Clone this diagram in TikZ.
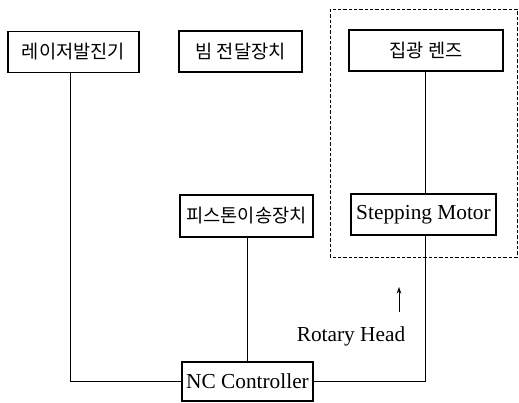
\documentclass[tikz,border=0pt]{standalone}
\usepackage{fontspec}
\setmainfont{Liberation Serif}
\newfontfamily\kr{Noto Sans CJK KR}
\usetikzlibrary{arrows.meta}
\begin{document}
\begin{tikzpicture}[x=0.75pt,y=-0.75pt,
  box/.style={draw,line width=0.8pt,inner sep=0pt,anchor=center},
  krtext/.style={font=\kr\fontsize{14}{16}\selectfont},
  entext/.style={font=\fontsize{16}{18}\selectfont},
  wire/.style={line width=0.75pt}]
\useasboundingbox (0,0) rectangle (519,403);
\draw[dashed,dash pattern=on 2.5pt off 1.5pt,line width=0.6pt] (330,9) rectangle (517,257);
\node[box,krtext,minimum width=131*0.75pt,minimum height=41*0.75pt] (laser) at (73.5,52) {레이저발진기};
\node[box,krtext,minimum width=123*0.75pt,minimum height=41*0.75pt] (beam) at (240.5,51.5) {빔 전달장치};
\node[box,krtext,minimum width=154*0.75pt,minimum height=41*0.75pt] (lens) at (426,50.5) {집광 렌즈};
\node[box,entext,minimum width=145*0.75pt,minimum height=41*0.75pt] (motor) at (423.5,214.5) {Stepping Motor};
\node[box,krtext,minimum width=133*0.75pt,minimum height=42*0.75pt] (piston) at (246.5,216) {피스톤이송장치};
\node[box,entext,minimum width=131*0.75pt,minimum height=39*0.75pt] (nc) at (247.5,381.5) {NC Controller};
\node[entext,inner sep=0pt] (rh) at (351,336) {Rotary Head};
\coordinate (arrowbase) at (399,312);
\coordinate (arrowtip) at (399,287);
\coordinate (lensdrop) at (425.5,0);
\coordinate (laserdrop) at (70,0);
\coordinate (pistondrop) at (247,0);
\draw[wire] (lensdrop |- lens.south) -- (lensdrop |- motor.north);
\draw[wire] (pistondrop |- piston.south) -- (pistondrop |- nc.north);
\draw[wire] (laserdrop |- laser.south) |- (nc.west);
\draw[wire] (nc.east) -| (lensdrop |- motor.south);
\draw[wire,-{Stealth[length=5pt,width=3.5pt]}] (arrowbase) -- (arrowtip);
\end{tikzpicture}
\end{document}
